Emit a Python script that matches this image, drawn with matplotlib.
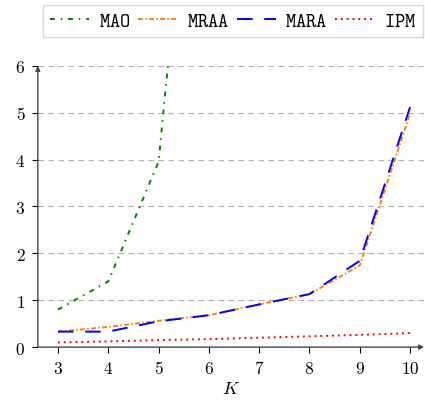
import matplotlib
matplotlib.use("Agg")
import matplotlib.pyplot as plt

plt.rcParams['mathtext.fontset'] = 'cm'
plt.rcParams['font.family'] = 'serif'
plt.rcParams['font.serif'] = ['DejaVu Serif']

K = [3, 4, 5, 6, 7, 8, 9, 10]
mao  = [0.80, 1.40, 3.95, 15.0, 30.0, 50.0, 80.0, 120.0]
mraa = [0.33, 0.43, 0.56, 0.68, 0.91, 1.13, 1.74, 4.98]
mara = [0.33, 0.33, 0.55, 0.68, 0.91, 1.13, 1.84, 5.12]
ipm  = [0.10, 0.12, 0.15, 0.17, 0.20, 0.23, 0.26, 0.30]

fig = plt.figure(figsize=(4.25, 4.10), dpi=100)
ax = fig.add_axes([0.089, 0.151, 0.909, 0.686])

lw = 1.4
ax.plot(K, mao, color='#008000', lw=lw, linestyle=(0, (2.5, 3, 0.8, 3)), label=r'$\mathtt{MAO}$')
ax.plot(K, mraa, color='#ff7f0e', lw=lw, linestyle=(0, (2.5, 1.2, 0.8, 1.2)), label=r'$\mathtt{MRAA}$')
ax.plot(K, mara, color='#0000ff', lw=lw, linestyle=(0, (8, 6)), label=r'$\mathtt{MARA}$')
ax.plot(K, ipm, color='#ff0000', lw=lw, linestyle=(0, (1, 2)), label=r'$\mathtt{IPM}$')

ax.set_xlim(2.6, 10.28)
ax.set_ylim(0, 6)
ax.set_xticks(K)
ax.set_xticklabels([rf'${k}$' for k in K], fontsize=12.5)
ax.set_yticks(range(7))
ax.set_yticklabels([rf'${v}$' for v in range(7)], fontsize=12.5)
ax.tick_params(direction='out', length=4, width=0.8, pad=5)
ax.set_xlabel(r'$K$', fontsize=13, labelpad=2)

for y in range(1, 7):
    ax.axhline(y, color='#b0b0b0', lw=0.8, linestyle=(0, (5, 4)), zorder=0)

for s in ['top', 'right', 'left', 'bottom']:
    ax.spines[s].set_visible(False)
ax.annotate('', xy=(0, 1.0), xytext=(0, 0), xycoords='axes fraction',
            arrowprops=dict(arrowstyle='-|>', color='#444444', lw=1.0, mutation_scale=7, shrinkA=0, shrinkB=0))
ax.annotate('', xy=(1.0, 0), xytext=(0, 0), xycoords='axes fraction',
            arrowprops=dict(arrowstyle='-|>', color='#444444', lw=1.0, mutation_scale=7, shrinkA=0, shrinkB=0))

fig.legend(loc='center', bbox_to_anchor=(0.549, 0.946), ncol=4, fontsize=14,
           frameon=True, fancybox=False, edgecolor='#cccccc', handlelength=2.0,
           handletextpad=0.5, columnspacing=0.4, borderpad=0.35)

fig.savefig('out.png', dpi=100)
